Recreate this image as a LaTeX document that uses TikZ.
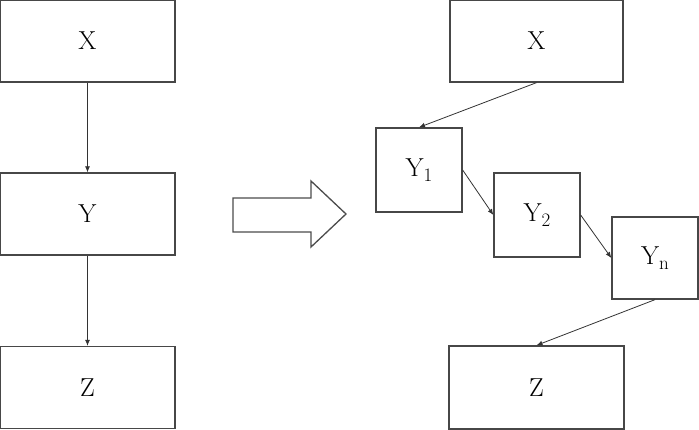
\documentclass[tikz,border=0pt]{standalone}
\usepackage{fontspec}
\usepackage{unicode-math}
\setmainfont{Latin Modern Roman}
\usetikzlibrary{arrows.meta}
\newcommand{\subtxt}[1]{\raisebox{-5pt}{\fontsize{19}{22}\selectfont #1}}
\begin{document}
\begin{tikzpicture}[x=1pt,y=-1pt,
  box/.style={draw=black!72,line width=1.3pt,inner sep=0pt,font=\fontsize{26}{30}\selectfont},
  conn/.style={draw=black!80,line width=0.8pt,-{Latex[length=6pt,width=5pt]}}]
\useasboundingbox (0,0) rectangle (699,430);
% left column
\node[box,minimum width=175pt,minimum height=82pt] (lx) at (87.5,41) {X};
\node[box,minimum width=175pt,minimum height=82pt] (ly) at (87.5,214) {Y};
\node[box,minimum width=175pt,minimum height=82pt] (lz) at (87.5,387.5) {Z};
\draw[conn] (lx.south) -- (ly.north);
\draw[conn] (ly.south) -- (lz.north);
% big arrow
\draw[draw=black!70,line width=1.3pt,fill=white] (233,198) -- (311,198) -- (311,181) -- (346,214) -- (311,247) -- (311,232) -- (233,232) -- cycle;
% right column
\node[box,minimum width=173pt,minimum height=82pt] (rx) at (536.5,41) {X};
\node[box,minimum width=86pt,minimum height=84pt] (y1) at (419,170) {Y\subtxt{1}};
\node[box,minimum width=86pt,minimum height=84pt] (y2) at (537,215) {Y\subtxt{2}};
\node[box,minimum width=86pt,minimum height=82pt] (yn) at (655,258) {Y\subtxt{n}};
\node[box,minimum width=175pt,minimum height=83pt] (rz) at (536.5,387.5) {Z};
\draw[conn] (rx.south) -- (y1.north);
\draw[conn] (y1.east) -- (y2.west);
\draw[conn] (y2.east) -- (yn.west);
\draw[conn] (yn.south) -- (rz.north);
\end{tikzpicture}
\end{document}
